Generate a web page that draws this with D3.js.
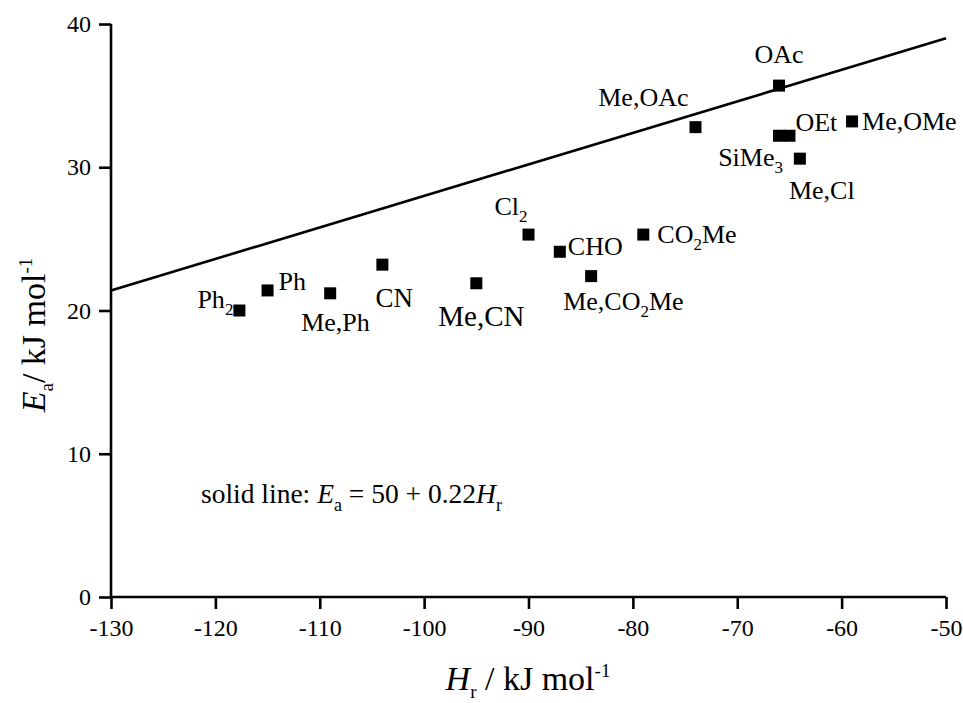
<!DOCTYPE html>
<html>
<head>
<meta charset="utf-8">
<script src="https://cdn.jsdelivr.net/npm/d3@7"></script>
<style>
  html, body { margin: 0; padding: 0; background: #fff; }
  svg { display: block; }
</style>
</head>
<body>
<svg id="chart" width="963" height="703"></svg>
<script>
// ---- data ----
const labels = ["Ph_2", "Ph", "Me,Ph", "CN", "Me,CN", "Cl_2", "CHO", "Me,CO_2Me", "CO_2Me",
                "Me,OAc", "OAc", "SiMe_3", "OEt", "Me,Cl", "Me,OMe"];
const Hr = [-117.7, -115, -109, -104, -95, -90, -87, -84, -79, -74, -66, -66, -65, -64, -59];
const Ea = [20.0, 21.4, 21.2, 23.2, 21.9, 25.3, 24.1, 22.4, 25.3, 32.8, 35.7, 32.2, 32.2, 30.6, 33.2];
const xTicks = [-130, -120, -110, -100, -90, -80, -70, -60, -50];
const yTicks = [0, 10, 20, 30, 40];
const lineIntercept = 50, lineSlope = 0.22;
const lineDomain = [-130, -50];

// ---- layout (label offsets in px from point centre) ----
const labelLayout = {
  "Ph_2":      { dx: -6,  dy: -3,  anchor: "end",    size: 26 },
  "Ph":        { dx: 11,  dy: 0,   anchor: "start",  size: 26 },
  "Me,Ph":     { dx: -29, dy: 38,  anchor: "start",  size: 26 },
  "CN":        { dx: -7,  dy: 42,  anchor: "start",  size: 27 },
  "Me,CN":     { dx: -38, dy: 43,  anchor: "start",  size: 29 },
  "Cl_2":      { dx: -34, dy: -20, anchor: "start",  size: 26 },
  "CHO":       { dx: 8,   dy: 3,   anchor: "start",  size: 26 },
  "Me,CO_2Me": { dx: -28, dy: 34,  anchor: "start",  size: 26 },
  "CO_2Me":    { dx: 14,  dy: 8,   anchor: "start",  size: 26 },
  "Me,OAc":    { dx: -7,  dy: -21, anchor: "end",    size: 26 },
  "OAc":       { dx: 0,   dy: -23, anchor: "middle", size: 26 },
  "SiMe_3":    { dx: 4,   dy: 30,  anchor: "end",    size: 26 },
  "OEt":       { dx: 6,   dy: -5,  anchor: "start",  size: 26 },
  "Me,Cl":     { dx: -11, dy: 40,  anchor: "start",  size: 26 },
  "Me,OMe":    { dx: 10,  dy: 9,   anchor: "start",  size: 26 }
};

const FONT = "'Liberation Serif', 'Times New Roman', Times, serif";
const svg = d3.select("#chart").attr("font-family", FONT);
const x = d3.scaleLinear().domain([-130, -50]).range([111, 946]);
const y = d3.scaleLinear().domain([0, 40]).range([597, 24]);

// axes
const fmt = d => String(d);
const xAxis = d3.axisBottom(x).tickValues(xTicks).tickFormat(fmt).tickSize(12).tickSizeOuter(0).tickPadding(9);
const yAxis = d3.axisLeft(y).tickValues(yTicks).tickFormat(fmt).tickSize(12).tickSizeOuter(0).tickPadding(8);

const gx = svg.append("g").attr("transform", "translate(0,597)").call(xAxis);
const gy = svg.append("g").attr("transform", "translate(111,0)").call(yAxis);
[gx, gy].forEach(g => {
  g.attr("font-family", FONT).attr("font-size", 24);
  g.select(".domain").attr("stroke", "#000").attr("stroke-width", 2.6);
  g.selectAll(".tick line").attr("stroke", "#000").attr("stroke-width", 2.6);
  g.selectAll(".tick text").attr("fill", "#000");
});
gx.select(".domain").attr("d", `M${x(-130) - 1.3},0H${x(-50)}`);
gy.select(".domain").attr("d", `M0,${y(0) + 1.3}V${y(40)}`);
gx.selectAll(".tick text").attr("dy", "0.75em");

// fitted line
svg.append("line")
  .attr("x1", x(lineDomain[0])).attr("y1", y(lineIntercept + lineSlope * lineDomain[0]))
  .attr("x2", x(lineDomain[1])).attr("y2", y(lineIntercept + lineSlope * lineDomain[1]))
  .attr("stroke", "#000").attr("stroke-width", 2.6);

// points
const pts = labels.map((l, i) => ({ label: l, h: Hr[i], e: Ea[i] }));
const sq = 12;
svg.append("g").selectAll("rect").data(pts).join("rect")
  .attr("x", d => x(d.h) - sq / 2).attr("y", d => y(d.e) - sq / 2)
  .attr("width", sq).attr("height", sq).attr("fill", "#000");

// rich text helper: "_c" => subscript c
function addRich(textSel, str, subSize) {
  const parts = str.split(/(_.)/).filter(s => s.length);
  let sub = false;
  parts.forEach(p => {
    if (p[0] === "_") {
      textSel.append("tspan").attr("dy", 7).attr("font-size", subSize).text(p[1]);
      sub = true;
    } else {
      const t = textSel.append("tspan").text(p);
      if (sub) { t.attr("dy", -7); sub = false; }
    }
  });
}

const lg = svg.append("g");
pts.forEach(d => {
  const L = labelLayout[d.label];
  const t = lg.append("text")
    .attr("x", x(d.h) + L.dx).attr("y", y(d.e) + L.dy)
    .attr("text-anchor", L.anchor)
    .attr("font-family", FONT)
    .attr("font-size", L.size);
  addRich(t, d.label, Math.round(L.size * 0.65));
});

// annotation
const ann = svg.append("text").attr("x", 201).attr("y", 503).attr("font-family", FONT).attr("font-size", 27.5);
ann.append("tspan").text("solid line: ");
ann.append("tspan").attr("font-style", "italic").text("E");
ann.append("tspan").attr("dy", 8).attr("font-size", 18).text("a");
ann.append("tspan").attr("dy", -8).text(" = 50 + 0.22");
ann.append("tspan").attr("font-style", "italic").text("H");
ann.append("tspan").attr("dy", 8).attr("font-size", 18).text("r");

// x-axis title
const xt = svg.append("text").attr("x", 528).attr("y", 690).attr("text-anchor", "middle")
  .attr("font-family", FONT).attr("font-size", 34);
xt.append("tspan").attr("font-style", "italic").text("H");
xt.append("tspan").attr("dy", 8).attr("font-size", 19).text("r");
xt.append("tspan").attr("dy", -8).text(" / kJ mol");
xt.append("tspan").attr("dy", -13).attr("font-size", 19).text("-1");

// y-axis title
const yt = svg.append("text").attr("transform", "translate(45,335) rotate(-90)")
  .attr("text-anchor", "middle").attr("font-family", FONT).attr("font-size", 34);
yt.append("tspan").attr("font-style", "italic").text("E");
yt.append("tspan").attr("dy", 8).attr("font-size", 19).text("a");
yt.append("tspan").attr("dy", -8).text("/ kJ mol");
yt.append("tspan").attr("dy", -13).attr("font-size", 19).text("-1");
</script>
</body>
</html>
